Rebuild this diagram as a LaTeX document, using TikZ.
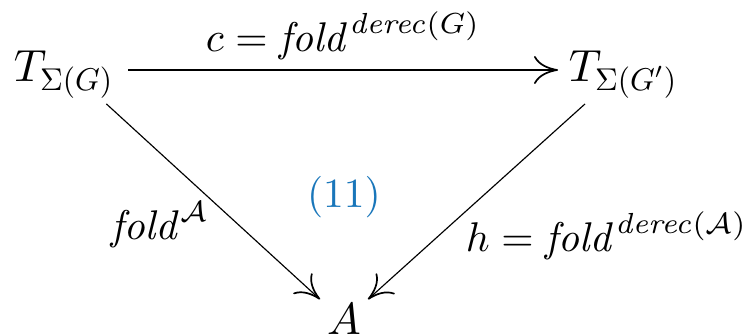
\documentclass[tikz,border=0pt]{standalone}
\usepackage{graphicx}
\usetikzlibrary{arrows.meta}
\definecolor{labblue}{RGB}{25,118,186}
\newcommand\myss[1]{\scalebox{0.7}{$#1$}}
\begin{document}
\begin{tikzpicture}[x=1pt,y=1pt,
  obj/.style={inner sep=0pt, scale=4.5},
  lab/.style={inner sep=0pt, scale=4.15},
  arr/.style={line width=1.15pt, -{Computer Modern Rightarrow[length=24pt,width=28pt,line width=1.7pt]}}]
\useasboundingbox (0,0) rectangle (749,335);
\node[obj, anchor=base west] (tl) at (13,253) {$T_{\myss{\Sigma(G)}}$};
\node[obj, anchor=base west] (tr) at (568,253) {$T_{\myss{\Sigma(G')}}$};
\node[obj, anchor=base] (a) at (344,1) {$A$};
\node[lab, anchor=base west] (lc) at (205,283) {$c = \mathit{fold}^{\mathit{derec}(G)}$};
\node[lab, anchor=base west] (ll) at (110,95) {$\mathit{fold}^{\mathcal{A}}$};
\node[lab, anchor=base west] (lr) at (465,83) {$h = \mathit{fold}^{\mathit{derec}(\mathcal{A})}$};
\node[lab, text=labblue] (n) at (344,138) {$(11)$};
\draw[arr] ([shift={(13,12)}]tl.base east) -- ([shift={(-10,12)}]tr.base west);
\draw[arr] ([shift={(-9,-5)}]tl.south east) -- ([shift={(-24,3)}]a.north);
\draw[arr] ([shift={(17,-5)}]tr.south west) -- ([shift={(24,3)}]a.north);
\end{tikzpicture}
\end{document}
